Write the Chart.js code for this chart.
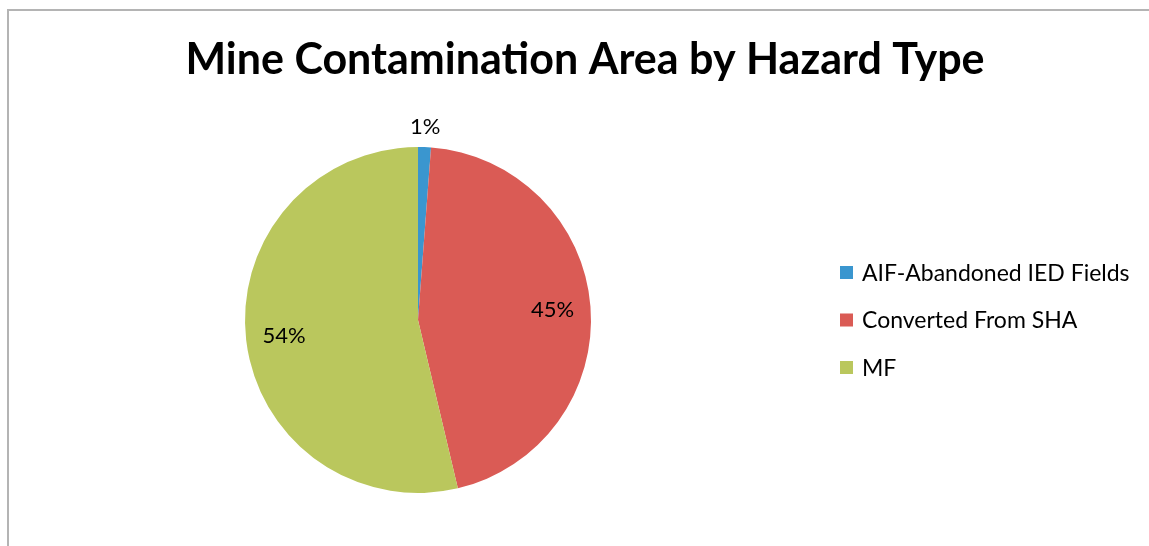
<!DOCTYPE html>
<html>
<head>
<meta charset="utf-8">
<script src="https://cdn.jsdelivr.net/npm/chart.js@4/dist/chart.umd.min.js"></script>
<style>
  html, body { margin: 0; padding: 0; background: #fff; overflow: hidden; width: 1149px; height: 546px; }
  #frame { position: absolute; left: 7px; top: 9px; border: 2px solid #b4b4b4; width: 1152px; height: 556px; }
  canvas { display: block; }
</style>
</head>
<body>
<div id="frame"><canvas id="pie" width="1152" height="556"></canvas></div>
<script>
const categories = ['AIF-Abandoned IED Fields', 'Converted From SHA', 'MF'];
const shares = [1.2, 45.1, 53.7];
const percentLabels = ['1%', '45%', '54%'];
const sliceColors = ['#3A96CF', '#DA5B55', '#BAC75D'];
const chartTitle = 'Mine Contamination Area by Hazard Type';

const FONT = 'Lato, "Open Sans", sans-serif';

// title centred on the whole frame (layout padding would shift the built-in one)
const frameTitle = {
  id: 'frameTitle',
  afterDraw(chart) {
    const ctx = chart.ctx;
    ctx.save();
    ctx.font = 'bold 43px ' + FONT;
    ctx.fillStyle = '#000';
    ctx.textAlign = 'center';
    ctx.textBaseline = 'alphabetic';
    ctx.fillText(chartTitle, chart.width / 2, 63);
    ctx.restore();
  }
};

// labels on the slices, outside for tiny ones
const sliceLabels = {
  id: 'sliceLabels',
  afterDatasetsDraw(chart) {
    const ctx = chart.ctx;
    const total = shares.reduce((a, b) => a + b, 0);
    ctx.save();
    ctx.font = '22px ' + FONT;
    ctx.fillStyle = '#000';
    ctx.textAlign = 'center';
    ctx.textBaseline = 'middle';
    chart.getDatasetMeta(0).data.forEach((arc, i) => {
      const p = arc.getProps(['x', 'y', 'startAngle', 'endAngle', 'outerRadius'], true);
      const mid = (p.startAngle + p.endAngle) / 2;
      const r = shares[i] / total < 0.03 ? p.outerRadius + 20 : p.outerRadius * 0.78;
      ctx.fillText(percentLabels[i], p.x + Math.cos(mid) * r, p.y + Math.sin(mid) * r);
    });
    ctx.restore();
  }
};

// legend to the right, rows centred on the pie
const sideLegend = {
  id: 'sideLegend',
  afterDraw(chart) {
    const ctx = chart.ctx;
    const area = chart.chartArea;
    const cy = (area.top + area.bottom) / 2;
    const x = 831, box = 13, gap = 47.5;
    ctx.save();
    ctx.font = '23px ' + FONT;
    ctx.textBaseline = 'middle';
    ctx.textAlign = 'left';
    chart.data.labels.forEach((lab, i) => {
      const y = cy + (i - 1) * gap;
      ctx.fillStyle = chart.data.datasets[0].backgroundColor[i];
      ctx.fillRect(x, y - box / 2, box, box);
      ctx.fillStyle = '#000';
      ctx.fillText(lab, x + 22, y + 1);
    });
    ctx.restore();
  }
};

const data = {
  labels: categories,
  datasets: [{
    data: shares,
    backgroundColor: sliceColors,
    borderWidth: 0
  }]
};

const config = {
  type: 'pie',
  data: data,
  options: {
    responsive: false,
    animation: false,
    radius: 173,
    layout: { padding: { left: 0, right: 334, top: 80, bottom: 18 } },
    plugins: {
      legend: { display: false },
      tooltip: { enabled: false },
      title: { display: false }
    }
  },
  plugins: [frameTitle, sliceLabels, sideLegend]
};

window.onload = function() {
  new Chart(document.getElementById('pie'), config);
};
</script>
</body>
</html>
